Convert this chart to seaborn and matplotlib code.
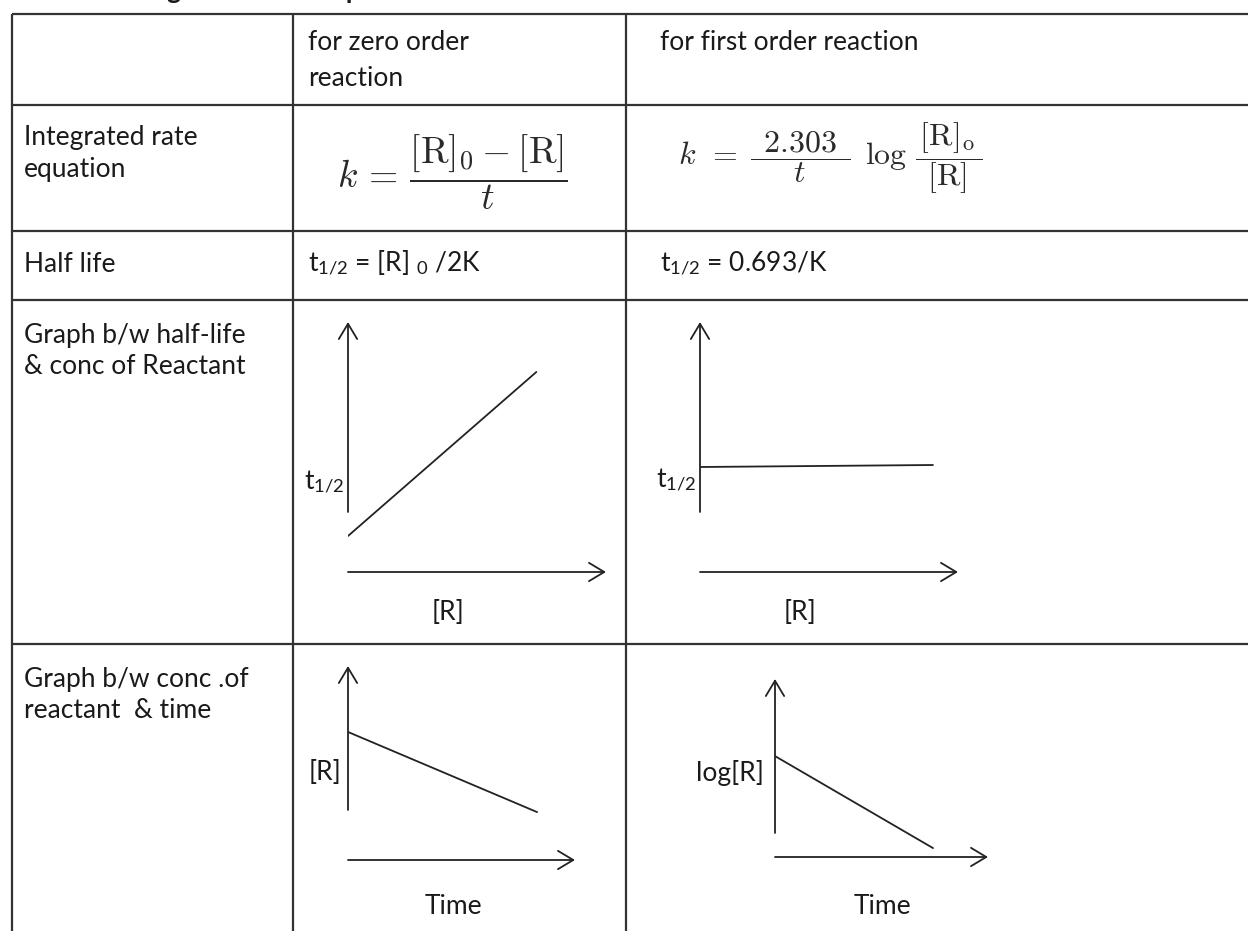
import matplotlib
matplotlib.use("Agg")
import matplotlib.pyplot as plt
import seaborn as sns
from matplotlib.patches import FancyArrowPatch

# ---------------- data ----------------
title_text = "Table showing the main comparison"
col_headers = [["for zero order", "reaction"], ["for first order reaction"]]
row_labels = [["Integrated rate", "equation"], ["Half life"],
              ["Graph b/w half-life", "& conc of Reactant"],
              ["Graph b/w conc .of", "reactant  & time"]]
rate_equations = [r"$k\,=\,\dfrac{[\mathrm{R}]_0 -[\mathrm{R}]}{t}$",
                  r"$k\;\,=\;\dfrac{\;\,2.303\;\,}{t}\;\,\log\,\dfrac{\,[\mathrm{R}]_\mathrm{o}\,}{[\mathrm{R}]}$"]
half_life_texts = [r"t$_{\mathrm{1/2}}$ = [R] $_{\mathrm{0}}$ /2K", r"t$_{\mathrm{1/2}}$ = 0.693/K"]

# graph 1: zero order, t1/2 vs [R]
g1_conc = [0.0, 7.3]
g1_thalf = [1.44, 8.0]
# graph 2: first order, t1/2 vs [R]
g2_conc = [0.0, 9.03]
g2_thalf = [4.2, 4.28]
# graph 3: zero order, [R] vs time
g3_time = [0.0, 8.33]
g3_conc = [6.6, 2.47]
# graph 4: first order, log[R] vs time
g4_time = [0.0, 7.42]
g4_logc = [5.67, 0.5]

graph_ylabels = [r"t$_{\mathrm{1/2}}$", r"t$_{\mathrm{1/2}}$", "[R]", "log[R]"]
graph_xlabels = ["[R]", "[R]", "Time", "Time"]

# ---------------- style ----------------
sns.set_theme(style="white")
FONT = "Lato"
plt.rcParams["font.family"] = [FONT, "DejaVu Sans"]
plt.rcParams["mathtext.fontset"] = "custom"
plt.rcParams["mathtext.rm"] = FONT
plt.rcParams["mathtext.it"] = FONT + ":italic"
plt.rcParams["mathtext.bf"] = FONT + ":bold"

W, H = 1248, 931
fig = plt.figure(figsize=(W / 100, H / 100), dpi=100)
fig.patch.set_facecolor("white")
ax = fig.add_axes([0, 0, 1, 1])
ax.set_xlim(0, W)
ax.set_ylim(H, 0)
ax.axis("off")

TXT = "#1a1a1a"
LINE = "#333333"
FS = 19

# title (cut off at top of the image, only descenders visible as in reference)
ax.text(12, -1, title_text, fontsize=FS, fontweight="bold", color=TXT,
        va="baseline", ha="left")

# table grid
h_lines = [14, 105, 231, 300, 644]
v_lines = [12, 293, 626]
for y in h_lines:
    ax.plot([12, W], [y, y], color=LINE, lw=1.6, solid_capstyle="butt")
for x in v_lines:
    ax.plot([x, x], [14, H], color=LINE, lw=1.6, solid_capstyle="butt")

# header
ax.text(308, 42, col_headers[0][0], fontsize=FS, color=TXT, va="center", ha="left")
ax.text(308, 78, col_headers[0][1], fontsize=FS, color=TXT, va="center", ha="left")
ax.text(660, 42, col_headers[1][0], fontsize=FS, color=TXT, va="center", ha="left")

# left column
row_y = [[137, 170], [265], [335, 367], [679, 711]]
for lines, ys in zip(row_labels, row_y):
    for t, y in zip(lines, ys):
        ax.text(24, y, t, fontsize=FS, color=TXT, va="center", ha="left")

# equations
ax.text(337, 172, rate_equations[0], fontsize=27, color="#2a2a2a", va="center",
        ha="left", math_fontfamily="cm")
ax.text(678, 158, rate_equations[1], fontsize=23, color="#2a2a2a", va="center",
        ha="left", math_fontfamily="cm")

# half life
ax.text(308, 263, half_life_texts[0], fontsize=FS, color=TXT, va="center", ha="left")
ax.text(660, 263, half_life_texts[1], fontsize=FS, color=TXT, va="center", ha="left")


# mini graphs
def px_axes(x0, x1, y0, y1):
    return fig.add_axes([x0 / W, 1 - y1 / H, (x1 - x0) / W, (y1 - y0) / H])


def arrow(a, p0, p1):
    arr = FancyArrowPatch(p0, p1, arrowstyle="->,head_length=0.55,head_width=0.33",
                          mutation_scale=20, lw=1.3, color="#222222",
                          shrinkA=0, shrinkB=0, transform=a.transData, clip_on=False)
    a.add_patch(arr)


graphs = [
    ((348, 606, 322, 572), 2.4, g1_conc, g1_thalf),
    ((700, 958, 322, 572), 2.4, g2_conc, g2_thalf),
    ((348, 575, 666, 860), 2.58, g3_time, g3_conc),
    ((775, 988, 679, 857), 1.35, g4_time, g4_logc),
]
for box, ystart, xs, ys in graphs:
    a = px_axes(*box)
    sns.lineplot(x=xs, y=ys, ax=a, color="#222222", lw=1.3)
    a.axis("off")
    a.set_xlim(0, 10)
    a.set_ylim(0, 10)
    arrow(a, (0, ystart), (0, 10))
    arrow(a, (0, 0), (10, 0))

# graph labels
ylabel_pos = [(344, 482), (696, 480), (341, 772), (764, 773)]
xlabel_pos = [(448, 612), (800, 612), (453, 906), (882, 907)]
for t, (x, y) in zip(graph_ylabels, ylabel_pos):
    ax.text(x, y, t, fontsize=FS, color=TXT, va="center", ha="right")
for t, (x, y) in zip(graph_xlabels, xlabel_pos):
    ax.text(x, y, t, fontsize=FS, color=TXT, va="center", ha="center")

fig.savefig("out.png", dpi=100, facecolor="white")
